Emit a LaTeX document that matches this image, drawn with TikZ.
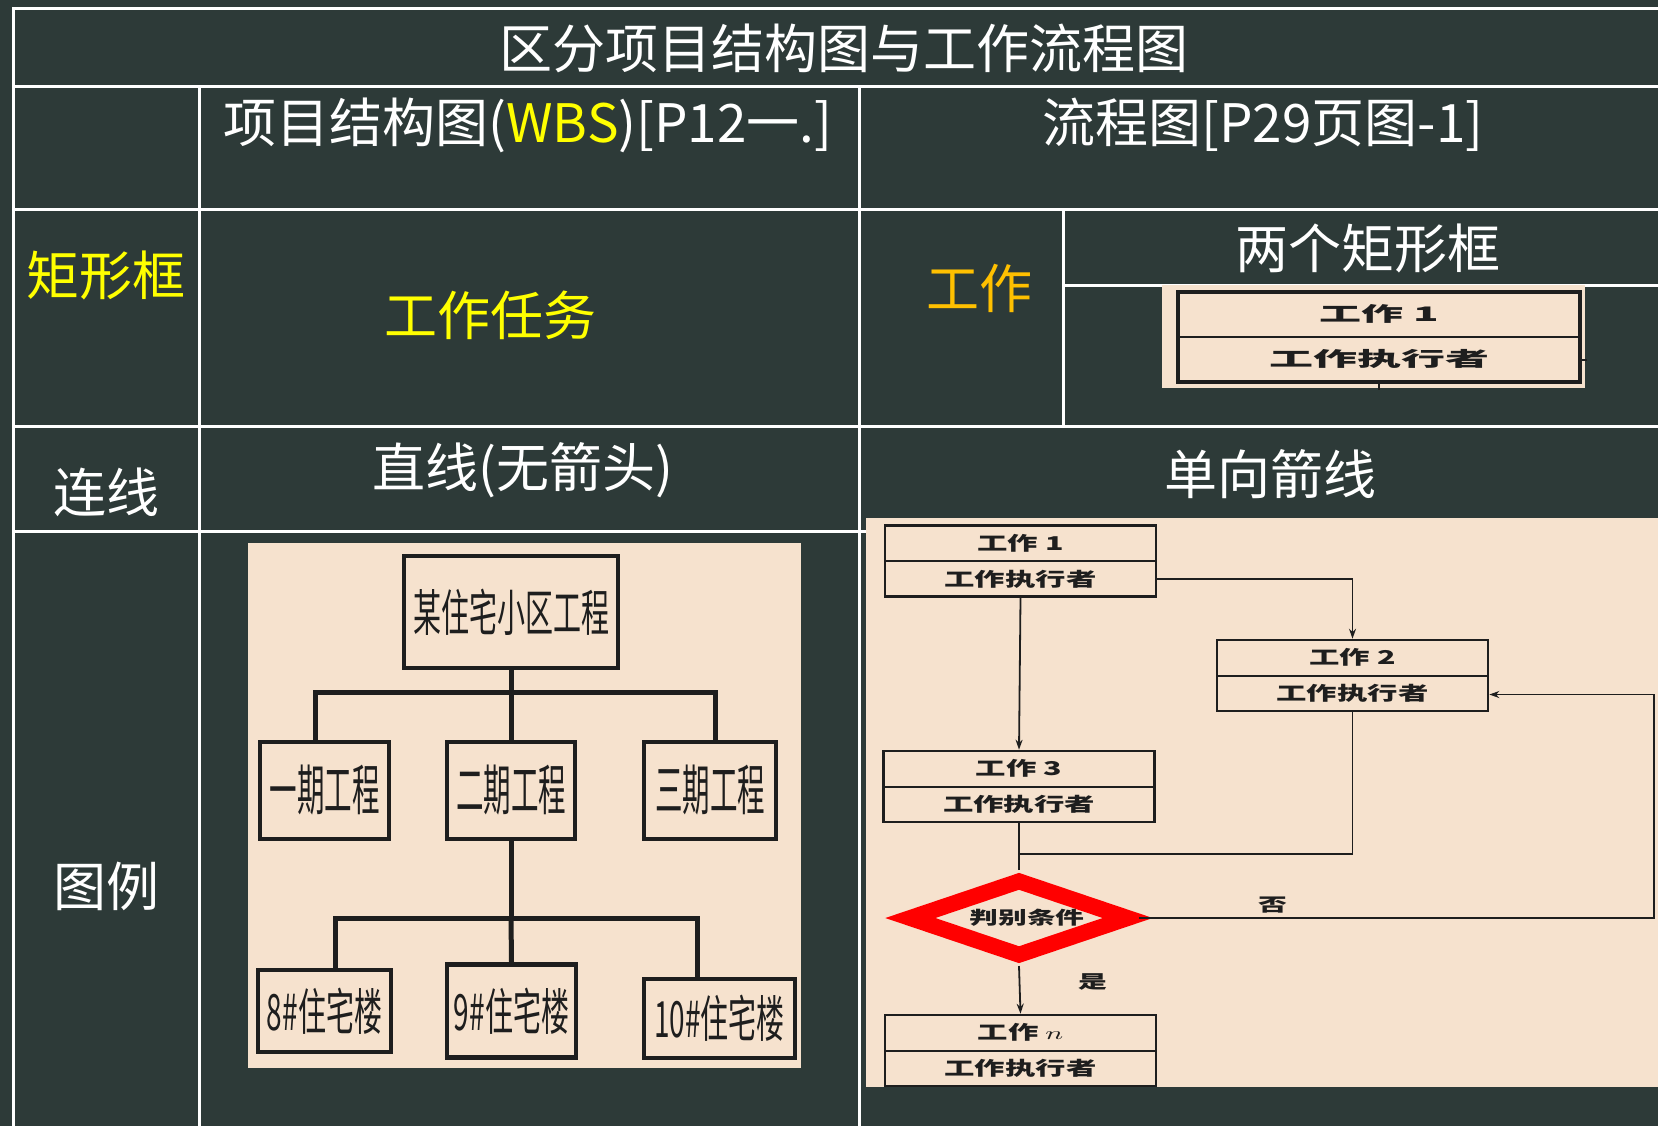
\documentclass[tikz,border=0pt]{standalone}
\usepackage{fontspec}
\usepackage{tikz}
\usetikzlibrary{arrows.meta, calc, shapes.geometric, positioning}

\newfontfamily\cjk{Noto Sans CJK SC}
\definecolor{slate}{RGB}{45,58,56}
\definecolor{paper}{RGB}{246,226,206}
\definecolor{lemon}{RGB}{255,255,0}
\definecolor{amber}{RGB}{255,192,0}
\definecolor{ink}{RGB}{30,30,30}

\newcommand{\wide}[2]{\scalebox{#1}[1]{#2}}
\newcommand{\jobtext}[1]{\wide{1.6}{#1}\\\wide{1.6}{工作执行者}}

\tikzset{
  tableline/.style={white, line width=1.5pt},
  celltext/.style={font=\cjk\fontsize{26.5}{30}\selectfont, text=white, inner sep=0pt},
  wbsbox/.style={draw=ink, line width=2.2pt, inner sep=0pt, text=ink},
  wbsline/.style={ink, line width=2.5pt},
  midrule/.style={path picture={\draw[ink, line width=1pt]
      (path picture bounding box.west) -- (path picture bounding box.east);}},
  jobbox/.style={draw=ink, line width=1.3pt, minimum width=135.5pt, minimum height=35.5pt,
      inner sep=0pt, align=center, text=ink, midrule,
      font=\cjk\bfseries\fontsize{9.5}{18}\selectfont},
  flowline/.style={ink, line width=0.9pt},
  flowarrow/.style={flowline, -{Stealth[length=5pt, width=3.5pt]}},
  judge/.style={diamond, draw=red, line width=8pt, aspect=2.8, inner sep=0pt,
      minimum width=112pt, minimum height=40pt, text=ink,
      font=\cjk\bfseries\fontsize{9}{10}\selectfont},
  flowword/.style={inner sep=0pt, text=ink, font=\cjk\bfseries\fontsize{9}{10}\selectfont}
}

\begin{document}
\begin{tikzpicture}[x=0.5pt, y=-0.5pt]
  % Background
  \fill[slate] (0,0) rectangle (1658,1126);
  \useasboundingbox (0,0) rectangle (1658,1126);

  % Table rules
  \draw[tableline] (13,1126) -- (13,8) -- (1658,8);
  \foreach \y in {86,209,426,531} \draw[tableline] (13,\y) -- (1658,\y);
  \foreach \x in {199,859} \draw[tableline] (\x,86) -- (\x,1126);
  \draw[tableline] (1063,209) -- (1063,426);
  \draw[tableline] (1063,285) -- (1658,285);

  % Headings
  \node[celltext] (title) at (844,48) {区分项目结构图与工作流程图};
  \node[celltext] (hwbs) at (528,125) {项目结构图(\textcolor{lemon}{WBS})[P12一.]};
  \node[celltext] (hflow) at (1263,125) {流程图[P29页图-1]};

  % Row: boxes
  \node[celltext, text=lemon] (rbox) at (106,275) {矩形框};
  \node[celltext, text=lemon] (task) at (490,315) {工作任务};
  \node[celltext, text=amber] (work) at (979,288) {工作};
  \node[celltext] (tworect) at (1368,248) {两个矩形框};

  % Sample box
  \fill[paper] (1162,285) rectangle (1585,388);
  \node[jobbox, line width=1.8pt, minimum width=201pt, minimum height=45pt,
        font=\cjk\bfseries\fontsize{10}{22.5}\selectfont] (sample) at (1379,337)
        {\wide{2.1}{工作 1}\\\wide{2.2}{工作执行者}};
  \draw[flowline] ($(sample.east)+(0,23)$) -- ++(5,0);
  \draw[flowline] (sample.south) -- ++(0,6);

  % Row: lines
  \node[celltext] (rline) at (106,492) {连线};
  \node[celltext] (plain) at (523,470) {直线(无箭头)};
  \node[celltext] (oneway) at (1270,474) {单向箭线};

  % Row: examples
  \node[celltext] (rexample) at (106,886) {图例};

  % WBS example
  \fill[paper] (248,543) rectangle (801,1068);
  \node[wbsbox, minimum width=107pt, minimum height=56pt, font=\cjk\fontsize{25}{28}\selectfont]
        (estate) at (511,612) {\wide{0.56}{某住宅小区工程}};
  \begin{scope}[every node/.style={wbsbox, minimum height=48.5pt, font=\cjk\fontsize{27.5}{30}\selectfont}]
    \node[minimum width=64.5pt] (phase1) at (324.5,790.5) {\wide{0.5}{一期工程}};
    \node[minimum width=64pt] (phase2) at (511,790.5) {\wide{0.5}{二期工程}};
    \node[minimum width=66pt] (phase3) at (710,790.5) {\wide{0.5}{三期工程}};
  \end{scope}
  \begin{scope}[every node/.style={wbsbox, font=\cjk\fontsize{25}{28}\selectfont}]
    \node[minimum width=66.5pt, minimum height=41pt] (house8) at (324.5,1011) {\wide{0.56}{8\#住宅楼}};
    \node[minimum width=64.5pt, minimum height=46.5pt] (house9) at (511.5,1011) {\wide{0.56}{9\#住宅楼}};
    \node[minimum width=75.5pt, minimum height=39.5pt] (house10) at (719.5,1018.5) {\wide{0.56}{10\#住宅楼}};
  \end{scope}
  \draw[wbsline] (estate.south) -- ++(0,22) coordinate (bar1);
  \draw[wbsline] ([xshift=-4.5pt]phase1.north) |- (bar1) -| ([xshift=2.5pt]phase3.north);
  \draw[wbsline] (bar1) -- (phase2.north);
  \draw[wbsline] (phase2.south) -- ++(0,77) coordinate (bar2);
  \draw[wbsline] ([xshift=5.5pt]house8.north) |- (bar2) -| ([xshift=-11pt]house10.north);
  \draw[wbsline] (bar2) -- (house9.north);

  % Flow chart example
  \fill[paper] (866,518) rectangle (1658,1087);
  \node[jobbox] (job1) at (1020.5,561) {\jobtext{工作 1}};
  \node[jobbox] (job2) at (1352.5,675.5) {\jobtext{工作 2}};
  \node[jobbox] (job3) at (1019,786.5) {\jobtext{工作 3}};
  \node[jobbox] (jobn) at (1020.5,1050.5) {\jobtext{工作 $n$}};
  \node[judge] (check) at (1019,918) {\hspace*{8pt}\raisebox{-3pt}{\wide{1.6}{判别条件}}};
  \coordinate (back) at (1654,918);
  \path (job3.south) ++(0,31) coordinate (join);

  \draw[flowarrow] (job1.south) -- (job3.north);
  \draw[flowarrow] ($(job1.east)+(0,18)$) -| (job2.north);
  \draw[flowline] (job2.south) |- (join);
  \draw[flowline] (job3.south) -- (check.north);
  \draw[flowarrow] (check.south) -- node[flowword, pos=0.33, right=29pt] (yes) {\wide{1.6}{是}} (jobn.north);
  \draw[flowarrow] (check.east) -- node[flowword, pos=0.26, above=2pt] (no) {\wide{1.6}{否}}
        (check.east -| back) |- ($(job2.east)+(0,19)$);
\end{tikzpicture}
\end{document}
